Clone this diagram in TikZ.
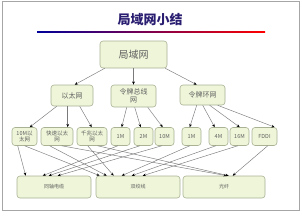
\documentclass[tikz,border=0pt]{standalone}
\usepackage{fontspec}
\newfontfamily\cjk{Noto Sans CJK SC}
\usetikzlibrary{arrows.meta}
\definecolor{boxfill}{HTML}{EEF5D8}
\definecolor{boxdraw}{HTML}{A9B394}
\definecolor{txt}{HTML}{606060}
\definecolor{ttl}{HTML}{2A1E70}
\definecolor{lineclr}{HTML}{7A7A7A}
\tikzset{
  box/.style={draw=boxdraw, fill=boxfill, rounded corners=3pt, line width=0.6pt,
    inner sep=0pt, align=center, text=txt, font=\cjk},
  conn/.style={draw=lineclr, line width=0.45pt, -{Stealth[length=3.2pt,width=2.6pt,black]}},
}
\begin{document}
\begin{tikzpicture}[x=1pt,y=-1pt]
\useasboundingbox (0,0) rectangle (302,215);
\fill[white] (0,0) rectangle (302,215);
\draw[color=black!35, line width=0.6pt] (2,1) rectangle (299,210);
% title
\node[font=\cjk\bfseries\fontsize{13}{13}\selectfont, text=ttl] (title) at (150,20) {局域网小结};
\shade[left color=blue!60!black, right color=red] (37,31.2) rectangle (265,32.8);
% root
\node[box, minimum width=67pt, minimum height=27pt, font=\cjk\fontsize{10}{10}\selectfont] (root) at (133.5,54.5) {局域网};
% level 2
\node[box, minimum width=42pt, minimum height=21pt, font=\cjk\fontsize{7}{8}\selectfont] (eth) at (72,95.5) {以太网};
\node[box, minimum width=45pt, minimum height=22pt, font=\cjk\fontsize{7}{8.5}\selectfont] (bus) at (133.5,96) {令牌总线\\网};
\node[box, minimum width=45pt, minimum height=20pt, font=\cjk\fontsize{7}{8}\selectfont] (ring) at (202.5,95) {令牌环网};
% leaves
\tikzset{leaf/.style={box, minimum height=18pt, font=\cjk\fontsize{5.5}{6.5}\selectfont}}
\node[leaf, minimum width=25pt] (e10) at (24.5,136.5) {10M以\\太网};
\node[leaf, minimum width=32pt] (efast) at (57,136.5) {快速以太\\网};
\node[leaf, minimum width=30pt] (egig) at (92,136.5) {千兆以太\\网};
\node[leaf, minimum width=19pt] (b1) at (120.5,136.5) {1M};
\node[leaf, minimum width=19pt] (b2) at (143.5,136.5) {2M};
\node[leaf, minimum width=19pt] (b10) at (164.5,136.5) {10M};
\node[leaf, minimum width=19pt] (r1) at (191.5,136.5) {1M};
\node[leaf, minimum width=19pt] (r4) at (218.5,136.5) {4M};
\node[leaf, minimum width=19pt] (r16) at (239.5,136.5) {16M};
\node[leaf, minimum width=25pt] (fddi) at (264.5,136.5) {FDDI};
% media
\tikzset{media/.style={box, minimum height=22pt, font=\cjk\fontsize{5}{6}\selectfont}}
\node[media, minimum width=74pt] (coax) at (54,187) {同轴电缆};
\node[media, minimum width=84pt] (tp) at (138,187) {双绞线};
\node[media, minimum width=82pt] (fiber) at (224,187) {光纤};
% root -> level 2
\draw[conn] ([xshift=5pt]root.south west) -- ([xshift=24pt]eth.north west);
\draw[conn] (root.south) -- (bus.north);
\draw[conn] ([xshift=-2pt]root.south east) -- ([xshift=17pt]ring.north west);
% level 2 -> leaves
\draw[conn] ([xshift=6pt]eth.south west) -- ([xshift=18pt]e10.north west);
\draw[conn] ([xshift=17pt]eth.south west) -- ([xshift=27pt]efast.north west);
\draw[conn] ([xshift=29pt]eth.south west) -- ([xshift=15pt]egig.north west);
\draw[conn] ([xshift=16pt]bus.south west) -- ([xshift=11pt]b1.north west);
\draw[conn] ([xshift=24pt]bus.south west) -- ([xshift=7pt]b2.north west);
\draw[conn] ([xshift=37pt]bus.south west) -- ([xshift=8pt]b10.north west);
\draw[conn] ([xshift=17pt]ring.south west) -- ([xshift=8pt]r1.north west);
\draw[conn] ([xshift=23pt]ring.south west) -- ([xshift=6pt]r4.north west);
\draw[conn] ([xshift=30pt]ring.south west) -- ([xshift=10pt]r16.north west);
\draw[conn] ([xshift=38pt]ring.south west) -- ([xshift=23pt]fddi.north west);
% leaves -> media
\draw[conn] ([xshift=6pt]e10.south west) -- ([xshift=9pt]coax.north west);
\draw[conn] ([xshift=13pt]e10.south west) -- ([xshift=4pt]tp.north west);
\draw[conn] ([xshift=9pt]efast.south west) -- ([xshift=11pt]tp.north west);
\draw[conn] ([xshift=21pt]efast.south west) -- ([xshift=44pt]fiber.north west);
\draw[conn] ([xshift=11pt]egig.south west) -- ([xshift=18pt]tp.north west);
\draw[conn] ([xshift=21pt]egig.south west) -- ([xshift=46pt]fiber.north west);
\draw[conn] ([xshift=7pt]b1.south west) -- ([xshift=26pt]coax.north west);
\draw[conn] ([xshift=6pt]b2.south west) -- ([xshift=32pt]coax.north west);
\draw[conn] ([xshift=7pt]b10.south west) -- ([xshift=41pt]coax.north west);
\draw[conn] ([xshift=8pt]r1.south west) -- ([xshift=26pt]tp.north west);
\draw[conn] ([xshift=7pt]r4.south west) -- ([xshift=36pt]tp.north west);
\draw[conn] ([xshift=8pt]r16.south west) -- ([xshift=47pt]tp.north west);
\draw[conn] ([xshift=16pt]fddi.south west) -- ([xshift=50pt]fiber.north west);
\end{tikzpicture}
\end{document}
